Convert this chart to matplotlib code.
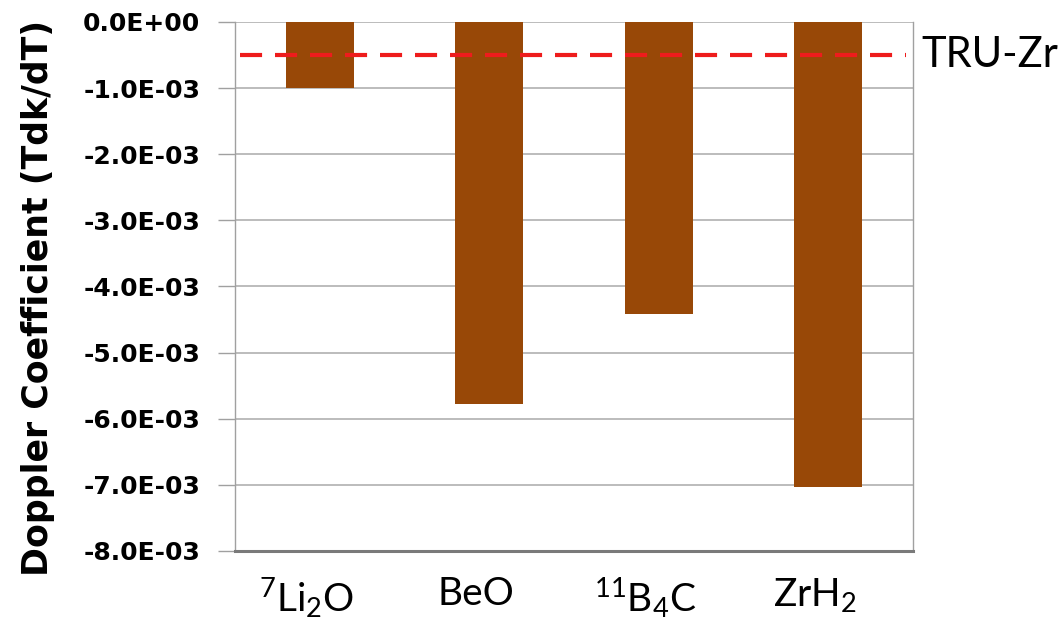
import numpy as np
import matplotlib
matplotlib.use('Agg')
import matplotlib.pyplot as plt
from matplotlib.ticker import FuncFormatter, MultipleLocator

# data
materials = [r'$\mathrm{^{7}Li_{2}O}$', 'BeO', r'$\mathrm{^{11}B_{4}C}$', r'$\mathrm{ZrH_{2}}$']
doppler = [-1.0e-3, -5.78e-3, -4.41e-3, -7.03e-3]
tru_zr = -0.5e-3

plt.rcParams['mathtext.fontset'] = 'custom'
plt.rcParams['mathtext.rm'] = 'Lato'
plt.rcParams['mathtext.it'] = 'Lato:italic'
plt.rcParams['mathtext.bf'] = 'Lato:bold'

fig = plt.figure(figsize=(10.62, 6.32), dpi=100)
ax = fig.add_axes([0.2213, 0.1282, 0.6384, 0.837])

x = np.arange(len(materials))
ax.bar(x, doppler, width=0.4, color='#984807', zorder=2)
ax.axhline(tru_zr, xmin=0.008, xmax=0.99, color='#ee1c1c', lw=3, ls=(0, (5.3, 3.1)), zorder=3)
ax.text(1.012, tru_zr, 'TRU-Zr', transform=ax.get_yaxis_transform(),
        fontsize=30, family='Lato', va='center', ha='left')

ax.set_xlim(-0.5, 3.5)
ax.set_ylim(-8e-3, 0)
ax.yaxis.set_major_locator(MultipleLocator(1e-3))
ax.yaxis.set_major_formatter(FuncFormatter(lambda v, p: '{:.1E}'.format(0.0 if abs(v) < 1e-12 else v)))
ax.grid(axis='y', color='#b0b0b0', lw=1.2, zorder=0)

ax.set_xticks(x - 0.08)
ax.set_xticklabels(materials, fontsize=28, family='Lato')
ax.tick_params(axis='x', length=0, pad=18)
ax.tick_params(axis='y', length=12, width=1, color='#a0a0a0', pad=13)
for lab in ax.get_yticklabels():
    lab.set_fontsize(18)
    lab.set_fontweight('bold')

for s in ['left', 'right']:
    ax.spines[s].set_color('#a0a0a0')
    ax.spines[s].set_linewidth(1)
ax.spines['top'].set_visible(False)
ax.spines['bottom'].set_color('#7a7a7a')
ax.spines['bottom'].set_linewidth(2.2)

# y label placed by hand, it sits a bit lower than the axes centre
fig.text(38 / 1062, 1 - 298 / 632, 'Doppler Coefficient (Tdk/dT)', rotation=90,
         fontsize=25, fontweight='bold', ha='center', va='center')

fig.savefig('out.png', dpi=100, facecolor='white')
